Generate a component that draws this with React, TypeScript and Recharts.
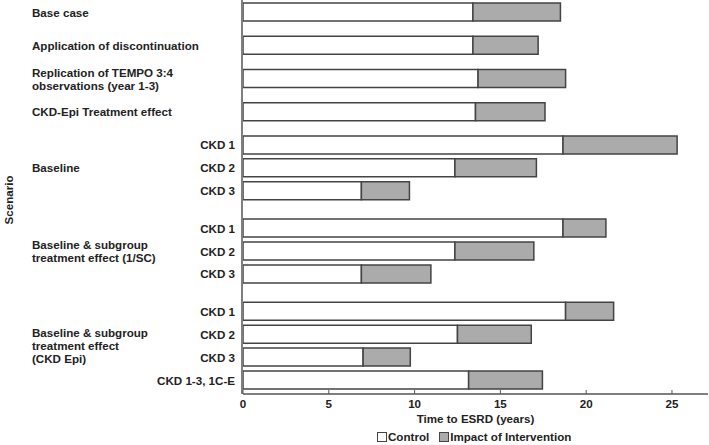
import { BarChart, Bar, XAxis, YAxis, Legend, Label } from 'recharts';

const rowLabels = [
  'Base case',
  'Application of discontinuation',
  'Replication of TEMPO 3:4\nobservations (year 1-3)',
  'CKD-Epi Treatment effect',
  'CKD 1',
  'CKD 2',
  'CKD 3',
  'CKD 1',
  'CKD 2',
  'CKD 3',
  'CKD 1',
  'CKD 2',
  'CKD 3',
  'CKD 1-3, 1C-E',
];
// sub-group each row belongs to, -1 = stand-alone scenario
const rowGroup = [-1, -1, -1, -1, 0, 0, 0, 1, 1, 1, 2, 2, 2, 2];
const groupLabels = [
  ['Baseline'],
  ['Baseline & subgroup', 'treatment effect (1/SC)'],
  ['Baseline & subgroup', 'treatment effect', '(CKD Epi)'],
];
const control = [13.4, 13.4, 13.7, 13.55, 18.65, 12.35, 6.9, 18.65, 12.35, 6.9, 18.8, 12.5, 7.0, 13.15];
const impact = [5.1, 3.8, 5.1, 4.05, 6.65, 4.75, 2.8, 2.5, 4.6, 4.05, 2.8, 4.3, 2.75, 4.3];
const xTicks = [0, 5, 10, 15, 20, 25];

const FONT = '"Liberation Sans", Arial, sans-serif';
const FS = 11.6;
const TEXT = '#222';
const EDGE = '#444';
const GREY = '#ababab';

// row spacing on the scenario axis
const SINGLE_STEP = 1.45;
const ROW_STEP = 1;
const GROUP_STEP = 1.63;
const Y_DOMAIN = [-0.546, 16.65];

const positions: number[] = [];
rowGroup.forEach((g, i) => {
  if (i === 0) {
    positions.push(0);
    return;
  }
  const prev = rowGroup[i - 1];
  const step = prev < 0 ? SINGLE_STEP : prev === g ? ROW_STEP : GROUP_STEP;
  positions.push(positions[i - 1] + step);
});

const groupCenters = groupLabels.map((_, g) => {
  const p = positions.filter((_, i) => rowGroup[i] === g);
  return (p[0] + p[p.length - 1]) / 2;
});

const data = rowLabels.map((label, i) => ({
  pos: positions[i],
  label,
  control: control[i],
  impact: impact[i],
}));

const findIndex = (arr: number[], v: number) => arr.findIndex((p) => Math.abs(p - v) < 1e-6);

const MultiLine = ({ x, y, lines, anchor }: { x: number; y: number; lines: string[]; anchor: 'start' | 'end' }) => (
  <text x={x} y={y} textAnchor={anchor} fontFamily={FONT} fontSize={FS} fontWeight="bold" fill={TEXT}>
    {lines.map((l, k) => (
      <tspan key={k} x={x} y={y + (k - (lines.length - 1) / 2) * 13} dy="0.35em">
        {l}
      </tspan>
    ))}
  </text>
);

// eslint-disable-next-line @typescript-eslint/no-explicit-any
const RowTick = ({ y, payload }: any) => {
  const i = findIndex(positions, payload.value);
  if (i < 0) return null;
  const lines = rowLabels[i].split('\n');
  if (rowGroup[i] < 0) return <MultiLine x={32} y={y} lines={lines} anchor="start" />;
  return <MultiLine x={235} y={y} lines={lines} anchor="end" />;
};

// eslint-disable-next-line @typescript-eslint/no-explicit-any
const GroupTick = ({ y, payload }: any) => {
  const g = findIndex(groupCenters, payload.value);
  if (g < 0) return null;
  return <MultiLine x={32} y={y} lines={groupLabels[g]} anchor="start" />;
};

// eslint-disable-next-line @typescript-eslint/no-explicit-any
const ScenarioLabel = ({ viewBox }: any) => {
  const cy = viewBox.y + viewBox.height / 2 + 3;
  return (
    <text
      x={8}
      y={cy}
      transform={`rotate(-90 8 ${cy})`}
      textAnchor="middle"
      dominantBaseline="central"
      fontFamily={FONT}
      fontSize={FS}
      fontWeight="bold"
      fill={TEXT}
    >
      Scenario
    </text>
  );
};

const swatch = (fill: string) => (
  <span
    style={{
      display: 'inline-block',
      width: 8,
      height: 8,
      border: `1px solid ${EDGE}`,
      background: fill,
      marginRight: 1,
    }}
  />
);

const LegendContent = () => (
  <div
    style={{
      display: 'flex',
      alignItems: 'center',
      height: 17,
      paddingLeft: 377,
      fontFamily: FONT,
      fontSize: FS,
      fontWeight: 'bold',
      color: TEXT,
    }}
  >
    {swatch('#fff')}
    <span style={{ marginRight: 10 }}>Control</span>
    {swatch(GREY)}
    <span>Impact of Intervention</span>
  </div>
);

export default function App() {
  return (
    <div style={{ position: 'absolute', left: 0, top: 0 }}>
      <BarChart
        width={709}
        height={445}
        data={data}
        layout="vertical"
        margin={{ top: 0, right: 1, bottom: 0, left: 0 }}
        barSize={18}
      >
        <XAxis
          type="number"
          domain={[0, 27.1]}
          ticks={xTicks}
          allowDataOverflow
          height={34}
          tickSize={-4}
          tickMargin={10}
          tickLine={{ stroke: '#555' }}
          axisLine={{ stroke: '#555', strokeWidth: 1.5 }}
          tick={{ fill: TEXT, fontFamily: FONT, fontSize: FS, fontWeight: 'bold' }}
        >
          <Label
            value="Time to ESRD (years)"
            position="insideBottom"
            offset={5}
            fill={TEXT}
            fontFamily={FONT}
            fontSize={FS}
            fontWeight="bold"
          />
        </XAxis>
        <YAxis
          yAxisId="rows"
          type="number"
          dataKey="pos"
          domain={Y_DOMAIN}
          allowDataOverflow
          ticks={positions}
          interval={0}
          tick={RowTick}
          tickLine={false}
          axisLine={{ stroke: '#555', strokeWidth: 1.5 }}
          width={242}
        >
          <Label content={ScenarioLabel} />
        </YAxis>
        <YAxis
          yAxisId="groups"
          type="number"
          dataKey="pos"
          domain={Y_DOMAIN}
          allowDataOverflow
          ticks={groupCenters}
          interval={0}
          tick={GroupTick}
          tickLine={false}
          axisLine={false}
          width={1}
        />
        <Legend verticalAlign="bottom" height={17} content={LegendContent} />
        <Bar
          yAxisId="rows"
          dataKey="control"
          stackId="a"
          fill="#fff"
          stroke={EDGE}
          strokeWidth={1.5}
          isAnimationActive={false}
        />
        <Bar
          yAxisId="rows"
          dataKey="impact"
          stackId="a"
          fill={GREY}
          stroke={EDGE}
          strokeWidth={1.5}
          isAnimationActive={false}
        />
      </BarChart>
    </div>
  );
}
